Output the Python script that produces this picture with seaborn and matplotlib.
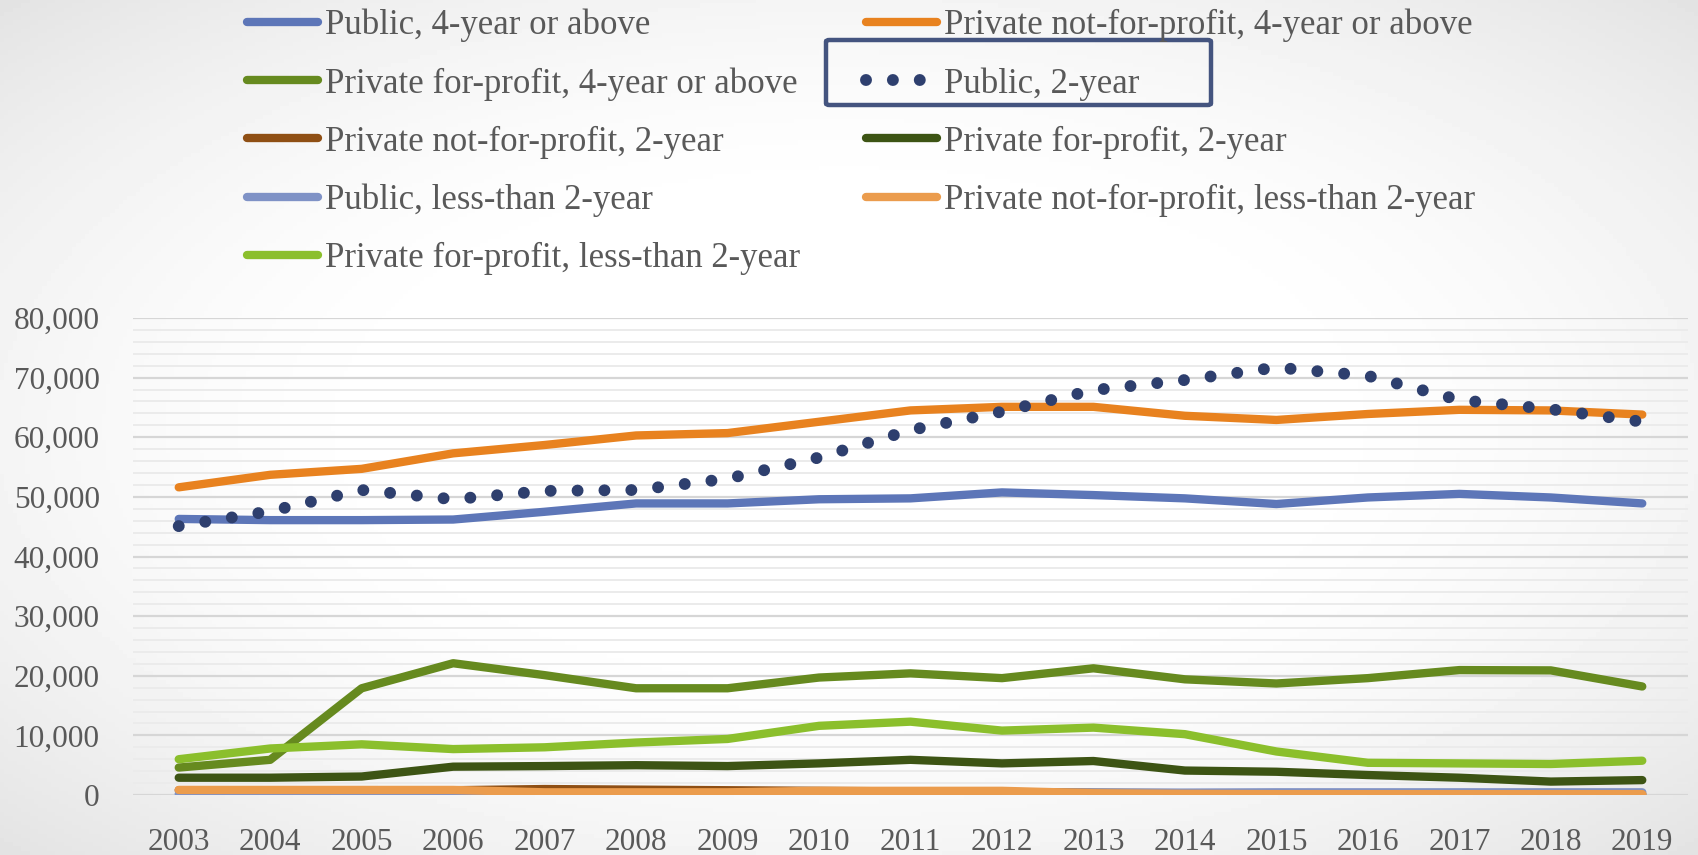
import numpy as np
import pandas as pd
import matplotlib.pyplot as plt
import seaborn as sns
from matplotlib.patches import FancyBboxPatch

sns.set_theme(style="white")
plt.rcParams['font.family'] = ['Liberation Serif', 'DejaVu Serif']
plt.rcParams['text.color'] = '#595959'

# Values
years = list(range(2003, 2020))
public_4yr = [46300, 46100, 46100, 46200, 47500, 48900, 48900, 49600, 49750,
              50750, 50300, 49750, 48800, 49900, 50500, 49900, 48900]
private_nfp_4yr = [51600, 53700, 54700, 57300, 58700, 60300, 60700, 62600, 64500,
                   65100, 65100, 63600, 62900, 63900, 64600, 64500, 63800]
private_fp_4yr = [4600, 5900, 17900, 22100, 20100, 17900, 17900, 19700, 20400,
                  19600, 21250, 19400, 18700, 19600, 20950, 20900, 18200]
public_2yr = [45100, 47600, 51150, 49600, 51000, 51150, 53050, 56600, 61200,
              64300, 67900, 69600, 71700, 70300, 66250, 64700, 62600]
private_nfp_2yr = [800, 800, 800, 800, 1000, 900, 800, 700, 600,
                   500, 400, 300, 250, 200, 200, 150, 150]
private_fp_2yr = [2900, 2900, 3100, 4750, 4850, 5000, 4850, 5300, 5900,
                  5300, 5700, 4100, 3900, 3350, 2900, 2250, 2500]
public_lt2 = [150, 150, 150, 150, 150, 150, 150, 200, 250,
              300, 400, 400, 450, 450, 450, 450, 450]
private_nfp_lt2 = [850, 850, 850, 850, 450, 450, 450, 700, 700,
                   700, 300, 200, 150, 150, 150, 150, 150]
private_fp_lt2 = [6000, 7800, 8500, 7700, 8000, 8800, 9400, 11600, 12300,
                  10800, 11300, 10200, 7300, 5400, 5300, 5200, 5750]

labels = [
    'Public, 4-year or above',
    'Private not-for-profit, 4-year or above',
    'Private for-profit, 4-year or above',
    'Public, 2-year',
    'Private not-for-profit, 2-year',
    'Private for-profit, 2-year',
    'Public, less-than 2-year',
    'Private not-for-profit, less-than 2-year',
    'Private for-profit, less-than 2-year',
]
series = [public_4yr, private_nfp_4yr, private_fp_4yr, public_2yr, private_nfp_2yr,
          private_fp_2yr, public_lt2, private_nfp_lt2, private_fp_lt2]
colors = ['#5d76b8', '#e8821f', '#668a1f', '#2e3f6e', '#8f4f14',
          '#3d5414', '#7f92c6', '#eb9c4d', '#8bbf2c']

df = pd.DataFrame({lab: vals for lab, vals in zip(labels, series)}, index=years)

fig = plt.figure(figsize=(16.98, 8.55), dpi=100)

# soft radial background like the slide
bg = fig.add_axes([0, 0, 1, 1], zorder=-10)
gx, gy = np.meshgrid(np.linspace(-1, 1, 400), np.linspace(-1, 1, 200))
r = np.sqrt(gx ** 2 + gy ** 2) / np.sqrt(2)
shade = 1 - 0.11 * np.clip((r - 0.35) / 0.65, 0, 1) ** 1.6
bg.imshow(shade, cmap='gray', vmin=0, vmax=1, aspect='auto', extent=[0, 1, 0, 1])
bg.axis('off')

ax = fig.add_axes([133 / 1698, 1 - 795 / 855, (1688 - 133) / 1698, (795 - 318) / 855])
ax.patch.set_alpha(0)

for lab, col in zip(labels, colors):
    if lab == 'Public, 2-year':
        sns.lineplot(x=df.index, y=df[lab], ax=ax, color=col, linewidth=8.6,
                     linestyle=(0, (0.001, 2.25)), dash_capstyle='round', label=lab)
    else:
        sns.lineplot(x=df.index, y=df[lab], ax=ax, color=col, linewidth=6,
                     solid_capstyle='round', solid_joinstyle='round', label=lab)

ax.set_xlim(2002.5, 2019.5)
ax.set_ylim(0, 80000)
ax.set_xticks(years)
ax.set_xticklabels([str(y) for y in years])
ax.set_yticks(range(0, 80001, 10000))
ax.set_yticklabels([f'{v:,}' for v in range(0, 80001, 10000)])
ax.set_yticks(range(0, 80001, 2000), minor=True)
ax.grid(axis='y', which='major', color='#d6d6d6', linewidth=1.6)
ax.grid(axis='y', which='minor', color='#ebebeb', linewidth=1.4)
ax.set_axisbelow(True)
ax.tick_params(axis='both', which='both', length=0, labelsize=22.5, colors='#595959')
ax.tick_params(axis='x', pad=24)
ax.tick_params(axis='y', pad=24)
ax.set_xlabel('')
ax.set_ylabel('')
for s in ax.spines.values():
    s.set_visible(False)

handles, labs = ax.get_legend_handles_labels()
if ax.get_legend() is not None:
    ax.get_legend().remove()
order = [0, 2, 4, 6, 8, 1, 3, 5, 7]
fig.legend([handles[i] for i in order], [labs[i] for i in order],
           loc='upper left', bbox_to_anchor=(247 / 1698, 0.99),
           bbox_transform=fig.transFigure, ncol=2, frameon=False,
           fontsize=25, handlelength=2.05, handletextpad=0.2,
           columnspacing=1.9, labelspacing=0.72, borderpad=0, borderaxespad=0)

# highlight box around the Public, 2-year entry
box = FancyBboxPatch((826 / 1698, 1 - 105 / 855), (1211 - 826) / 1698, 65 / 855,
                     boxstyle='round,pad=0,rounding_size=0.002',
                     transform=fig.transFigure, fill=False,
                     edgecolor='#44547f', linewidth=3.2)
fig.patches.append(box)

fig.savefig('out.png', dpi=100)
